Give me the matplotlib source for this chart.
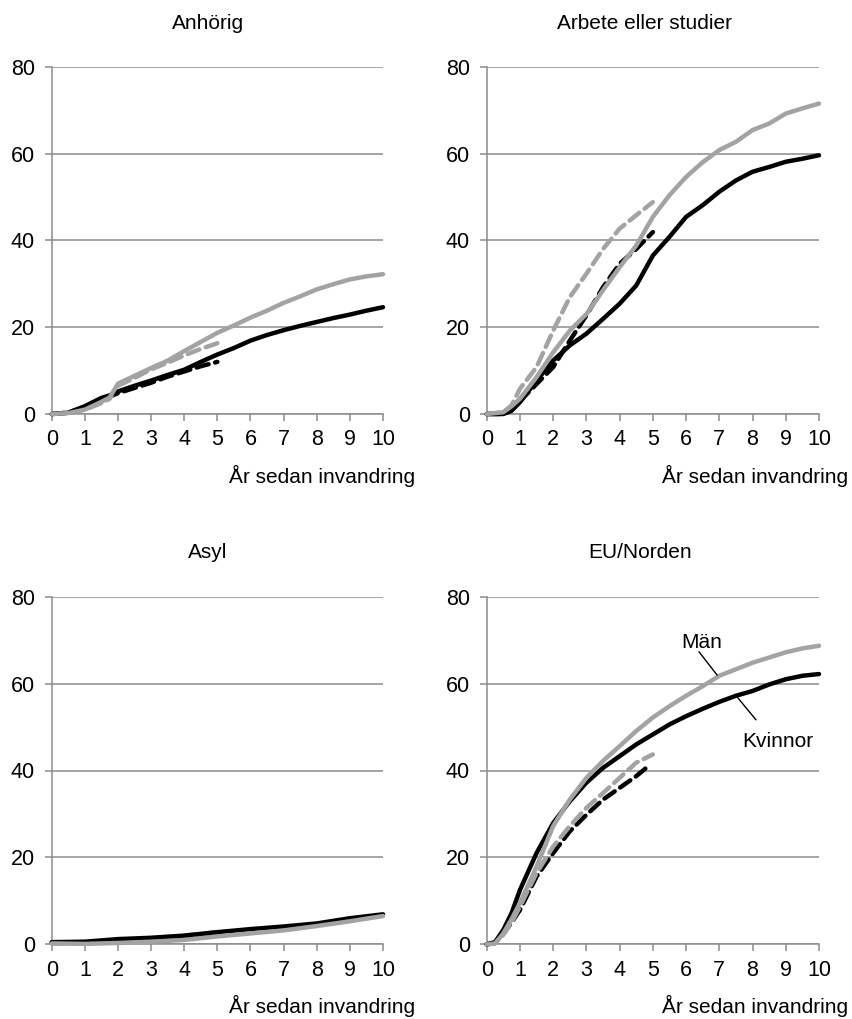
import matplotlib
matplotlib.use("Agg")
import matplotlib.pyplot as plt

plt.rcParams['font.family'] = ['Liberation Sans', 'DejaVu Sans']

# ---------------- data ----------------
titles = ["Anhörig", "Arbete eller studier", "Asyl", "EU/Norden"]
xlabel = "År sedan invandring"
yticks = [0, 20, 40, 60, 80]
xticks = list(range(0, 11))

# Anhörig
anh_x = [0, 0.5, 1, 1.5, 1.75, 2, 2.5, 3, 3.5, 4, 4.5, 5, 5.5, 6, 6.5, 7, 7.5, 8, 8.5, 9, 9.5, 10]
anh_man = [0, 0.2, 1.0, 2.8, 3.8, 7.0, 8.8, 10.6, 12.3, 14.5, 16.6, 18.7, 20.4, 22.2, 23.8, 25.6, 27.1, 28.7, 29.9, 31.0, 31.7, 32.2]
anh_kv = [0, 0.3, 1.8, 3.7, 4.3, 5.2, 6.5, 7.7, 9.0, 10.2, 12.0, 13.7, 15.2, 16.9, 18.2, 19.3, 20.3, 21.2, 22.1, 22.9, 23.8, 24.6]
anh_xd = [0, 0.5, 1, 1.5, 1.75, 2, 2.5, 3, 3.5, 4, 4.5, 5]
anh_man_d = [0, 0.2, 1.0, 2.5, 3.5, 6.5, 8.3, 10.3, 11.8, 13.5, 15.0, 16.3]
anh_kv_d = [0, 0.3, 1.7, 3.5, 4.0, 4.8, 6.0, 7.2, 8.6, 9.8, 11.0, 12.0]

# Arbete eller studier
arb_x = [0, 0.5, 0.75, 1, 1.5, 2, 2.5, 3, 3.5, 4, 4.5, 5, 5.5, 6, 6.5, 7, 7.5, 8, 8.5, 9, 9.5, 10]
arb_man = [0, 0.4, 1.8, 3.5, 8.5, 14.2, 19.2, 23.0, 28.5, 33.8, 38.8, 45.4, 50.4, 54.6, 58.0, 60.8, 62.7, 65.4, 66.9, 69.2, 70.4, 71.5]
arb_kv = [0, 0, 0.8, 2.7, 7.7, 12.3, 15.8, 18.5, 21.9, 25.4, 29.6, 36.5, 40.8, 45.4, 48.1, 51.2, 53.8, 55.8, 56.9, 58.1, 58.8, 59.6]
arb_xd = [0, 0.5, 0.75, 1, 1.5, 2, 2.5, 3, 3.5, 4, 4.5, 5]
arb_man_d = [0, 0.4, 2.0, 5.8, 10.8, 19.2, 26.9, 32.3, 38.0, 42.7, 45.8, 48.8]
arb_kv_d = [0, 0, 0.8, 3.0, 6.9, 10.8, 16.9, 22.7, 29.2, 34.6, 38.0, 41.9]

# Asyl
asy_x = [0, 1, 2, 3, 4, 5, 6, 7, 8, 9, 10]
asy_man = [0.2, 0.1, 0.3, 0.6, 1.0, 1.8, 2.5, 3.2, 4.2, 5.3, 6.5]
asy_kv = [0.5, 0.6, 1.2, 1.5, 2.0, 2.8, 3.5, 4.1, 4.8, 6.0, 6.9]
asy_xd = [0, 1, 2, 3, 4, 5]
asy_man_d = [0.2, 0.2, 0.6, 1.4, 2.0, 2.8]
asy_kv_d = [0.4, 0.5, 0.9, 1.2, 1.8, 2.4]

# EU/Norden
eu_x = [0, 0.25, 0.5, 0.75, 1, 1.5, 2, 2.5, 3, 3.5, 4, 4.5, 5, 5.5, 6, 6.5, 7, 7.5, 8, 8.5, 9, 9.5, 10]
eu_man = [0, 0.2, 2.5, 5.8, 9.5, 17.9, 27.2, 33.3, 38.3, 42.2, 45.6, 49.1, 52.2, 54.8, 57.2, 59.4, 61.8, 63.3, 64.8, 66.0, 67.2, 68.1, 68.7]
eu_kv = [0, 0.5, 3.3, 7.2, 12.5, 21.0, 27.9, 32.9, 37.2, 40.6, 43.3, 46.0, 48.3, 50.6, 52.5, 54.2, 55.8, 57.2, 58.3, 59.8, 61.0, 61.8, 62.2]
eu_xd_man = [0, 0.25, 0.5, 0.75, 1, 1.5, 2, 2.5, 3, 3.5, 4, 4.5, 5]
eu_man_d = [0, 0.2, 2.2, 5.0, 8.7, 16.4, 22.5, 27.2, 31.4, 34.8, 38.3, 41.8, 43.7]
eu_xd_kv = [0, 0.25, 0.5, 0.75, 1, 1.5, 2, 2.5, 3, 3.5, 4, 4.5, 4.8]
eu_kv_d = [0, 0.3, 2.5, 5.0, 7.9, 15.6, 21.0, 26.0, 29.8, 33.3, 36.0, 38.7, 40.6]

panels = [
    (anh_x, anh_man, anh_kv, anh_xd, anh_man_d, anh_xd, anh_kv_d),
    (arb_x, arb_man, arb_kv, arb_xd, arb_man_d, arb_xd, arb_kv_d),
    (asy_x, asy_man, asy_kv, asy_xd, asy_man_d, asy_xd, asy_kv_d),
    (eu_x, eu_man, eu_kv, eu_xd_man, eu_man_d, eu_xd_kv, eu_kv_d),
]

# ---------------- styling ----------------
W, H = 853, 1019
GRID = '#8c8c8c'
GRAY = '#a3a3a3'
BLACK = '#000000'
LW = 3.2
DASH = (0, (2.8, 1.5))
TICK_FS = 15.5

fig = plt.figure(figsize=(W / 100, H / 100), dpi=100)

# axes rectangles in pixels: (x0, x1, ytop, ybottom)
rects = [
    (51.7, 383.0, 66.7, 414.0),
    (486.7, 819.0, 66.7, 414.0),
    (51.7, 383.0, 596.7, 944.3),
    (486.7, 819.0, 596.7, 944.3),
]
title_pos = [(208, 29), (645, 29), (208, 558), (640, 558)]
xlabel_pos = [(415, 483), (848, 483), (415, 1013), (848, 1013)]

axes = []
for i, (x0, x1, yt, yb) in enumerate(rects):
    ax = fig.add_axes([x0 / W, 1 - yb / H, (x1 - x0) / W, (yb - yt) / H])
    axes.append(ax)
    xs, man, kv, xdm, man_d, xdk, kv_d = panels[i]
    ax.plot(xdk, kv_d, color=BLACK, lw=LW, ls=DASH, dash_capstyle='round', zorder=3)
    ax.plot(xdm, man_d, color=GRAY, lw=LW, ls=DASH, dash_capstyle='round', zorder=3)
    ax.plot(xs, kv, color=BLACK, lw=LW, solid_capstyle='round', zorder=4)
    ax.plot(xs, man, color=GRAY, lw=LW, solid_capstyle='round', zorder=5)

    ax.set_xlim(0, 10)
    ax.set_ylim(0, 80)
    ax.set_xticks(xticks)
    ax.set_yticks(yticks)
    ax.set_xticklabels([str(t) for t in xticks], fontsize=TICK_FS)
    ax.set_yticklabels([str(t) for t in yticks], fontsize=TICK_FS)
    ax.yaxis.grid(True, color=GRID, lw=1.1)
    ax.set_axisbelow(True)
    for s in ['top', 'right']:
        ax.spines[s].set_visible(False)
    for s in ['left', 'bottom']:
        ax.spines[s].set_color(GRID)
        ax.spines[s].set_linewidth(1.1)
    ax.tick_params(axis='x', direction='out', length=5, width=1.1, color=GRID, pad=6)
    ax.tick_params(axis='y', direction='out', length=5, width=1.1, color=GRID, pad=7)
    for ln in ax.lines:
        ln.set_clip_on(False)

    tx, ty = title_pos[i]
    fig.text(tx / W, 1 - ty / H, titles[i], ha='center', va='baseline', fontsize=15)
    lx, ly = xlabel_pos[i]
    fig.text(lx / W, 1 - ly / H, xlabel, ha='right', va='baseline', fontsize=15)

# annotations in EU/Norden
ax = axes[3]
ax.text(6.48, 68.2, "Män", ha='center', va='baseline', fontsize=15)
ax.plot([6.39, 6.93], [67.3, 62.0], color=BLACK, lw=1.0, zorder=6)
ax.text(8.75, 45.5, "Kvinnor", ha='center', va='baseline', fontsize=15)
ax.plot([7.56, 8.1], [56.7, 51.7], color=BLACK, lw=1.0, zorder=6)

fig.savefig("out.png", dpi=100)
